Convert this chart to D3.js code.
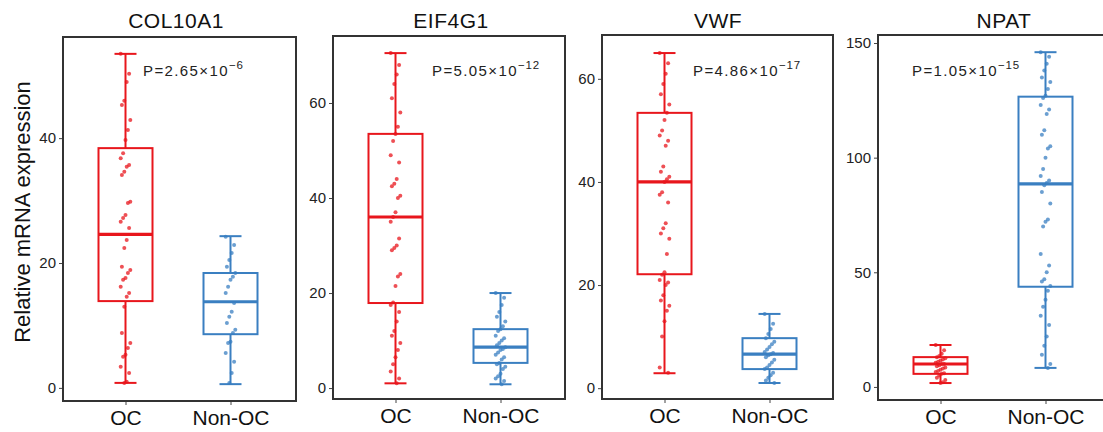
<!DOCTYPE html>
<html>
<head>
<meta charset="utf-8">
<script src="https://cdn.jsdelivr.net/npm/d3@7"></script>
<style>
  html, body { margin: 0; padding: 0; background: #fff; }
  svg { display: block; font-family: Arial, "Liberation Sans", sans-serif; }
</style>
</head>
<body>
<svg id="chart" width="1103" height="432"></svg>
<script>
// ---------------- DATA ----------------
const genes = ["COL10A1", "EIF4G1", "VWF", "NPAT"];
const groups = ["OC", "Non-OC"];
const pLabels = [
  {mant: "P=2.65×10", exp: "−6"},
  {mant: "P=5.05×10", exp: "−12"},
  {mant: "P=4.86×10", exp: "−17"},
  {mant: "P=1.05×10", exp: "−15"}
];
const yTicks = [[0, 20, 40], [0, 20, 40, 60], [0, 20, 40, 60], [0, 50, 100, 150]];
const yDomains = [[-2.1, 56.2], [-2.3, 74.1], [-2.1, 68.5], [-5.7, 153.5]];

// box stats [min, q1, median, q3, max]
const statsOC    = [[0.8, 13.9, 24.6, 38.4, 53.5], [1.0, 17.9, 36.0, 53.5, 70.5], [2.9, 22.1, 40.0, 53.4, 65.0], [1.7, 5.7, 10.0, 13.0, 18.3]];
const statsNonOC = [[0.6, 8.6, 13.8, 18.4, 24.3], [0.8, 5.3, 8.6, 12.4, 20.0], [1.0, 3.7, 6.6, 9.7, 14.4], [8.3, 43.7, 88.6, 126.6, 146.0]];

// individual samples
const col10a1OC = [53.5, 50.3, 49, 46, 45.3, 42.9, 41.3, 39.7, 37.6, 36.8, 35.7, 35.4, 34.6, 34.1, 29.8, 29.6, 27.7, 27.2, 26.6, 25.6, 23.7, 22.4, 19.4, 18.9, 18.4, 17.6, 17.3, 16.2, 15.2, 14.6, 13, 8.8, 7.2, 6.4, 5.3, 5, 3.4, 2.4, 1, 0.8];
const col10a1Non = [24.2, 22.9, 21.6, 20.5, 19.4, 18.4, 17.8, 17.3, 16.2, 15.2, 13.6, 12.2, 11.4, 10.4, 9.3, 8.8, 7.4, 7.2, 5.6, 4.2, 2.4, 0.8];
const eif4g1OC = [70.5, 68, 66, 64, 61, 58, 55, 53.5, 52, 49, 47.5, 44, 43, 42.5, 40.5, 40, 37, 36, 35, 31.5, 30, 29.5, 29, 24, 23.5, 21.5, 18, 17.5, 16, 14, 12, 11, 9.5, 8, 6.5, 5, 3.5, 2, 1];
const eif4g1Non = [20, 19, 17.5, 16, 15, 14, 13, 12.4, 12, 11, 10.5, 10, 9.5, 9, 8.6, 8.2, 8, 7.5, 7, 6.5, 6, 5.3, 5, 4.5, 4, 3, 2.5, 2, 1.5, 0.8];
const vwfOC = [65, 63, 61, 59, 57, 55, 53.4, 52, 50, 49, 48, 47, 43, 42, 41, 40.5, 40, 38, 37.5, 36, 32, 31, 30, 29, 26, 22.5, 22, 21, 20.5, 20, 18, 17, 16, 15, 13, 10, 4, 3];
const vwfNon = [14.4, 12.5, 11.5, 10.5, 9.7, 9, 8.5, 8, 7.5, 7, 6.8, 6.6, 6.4, 6, 5.5, 5, 4.5, 4, 3.7, 3, 2.5, 2, 1.5, 1];
const npatOC = [18.3, 16, 14.5, 13.5, 13, 12.5, 12, 11.5, 11, 10.5, 10, 10, 9.5, 9, 8.5, 8, 7.5, 7, 6.5, 6, 5.7, 5, 4, 3, 2, 1.7];
const npatNon = [146, 144, 141, 138, 135, 133, 130, 127, 126, 123, 121, 119, 112, 110, 105, 104, 100, 95, 92, 90, 89, 88, 85, 80, 73, 72, 70, 58, 53, 50, 47, 46, 44, 42, 38, 35, 31, 27, 22, 18, 14, 10, 8.3];
const pointsOC = [col10a1OC, eif4g1OC, vwfOC, npatOC];
const pointsNonOC = [col10a1Non, eif4g1Non, vwfNon, npatNon];

const yTitle = "Relative mRNA expression";

// ---------------- LAYOUT ----------------
const panels = [
  {left: 63,  right: 296,  top: 37, bottom: 401, pX: 143, tX: 176},
  {left: 333, right: 565,  top: 36, bottom: 399, pX: 432, tX: 451},
  {left: 602, right: 833,  top: 35, bottom: 399, pX: 693, tX: 718},
  {left: 878, right: 1130, top: 35, bottom: 400, pX: 912, tX: 1004}
];
const colors = {"OC": "#e8161c", "Non-OC": "#3a7fc1"};
const boxW = 54, capW = 22;

const svg = d3.select("#chart");

svg.append("text")
  .attr("transform", "translate(30,212) rotate(-90)")
  .attr("text-anchor", "middle")
  .attr("font-size", 22)
  .attr("fill", "#111")
  .text(yTitle);

genes.forEach((gene, gi) => {
  const P = panels[gi];
  const g = svg.append("g");
  const y = d3.scaleLinear().domain(yDomains[gi]).range([P.bottom, P.top]);
  const x = d3.scalePoint().domain(groups).range([P.left + 62.5, P.left + 167.5]);

  // title
  g.append("text")
    .attr("x", P.tX)
    .attr("y", 28)
    .attr("text-anchor", "middle")
    .attr("font-size", 21)
    .attr("letter-spacing", 0.5)
    .attr("fill", "#111")
    .text(gene);

  // y axis
  const yAxis = d3.axisLeft(y).tickValues(yTicks[gi]).tickSize(4).tickPadding(3);
  const ag = g.append("g").attr("transform", `translate(${P.left},0)`).call(yAxis);
  ag.select(".domain").remove();
  ag.selectAll(".tick line").attr("stroke", "#444");
  ag.selectAll(".tick text").attr("font-size", 15).attr("fill", "#222")
    .attr("font-family", "Arial, 'Liberation Sans', sans-serif");

  // x axis
  const xAxis = d3.axisBottom(x).tickSize(4).tickPadding(5);
  const xg = g.append("g").attr("transform", `translate(0,${P.bottom})`).call(xAxis);
  xg.select(".domain").remove();
  xg.selectAll(".tick line").attr("stroke", "#444");
  xg.selectAll(".tick text").attr("font-size", 21).attr("fill", "#111")
    .attr("font-family", "Arial, 'Liberation Sans', sans-serif");

  // boxes
  const stats = {"OC": statsOC[gi], "Non-OC": statsNonOC[gi]};
  const pts = {"OC": pointsOC[gi], "Non-OC": pointsNonOC[gi]};
  groups.forEach(grp => {
    const s = stats[grp];
    const cx = x(grp);
    const c = colors[grp];
    const bg = g.append("g");
    bg.append("line").attr("x1", cx).attr("x2", cx).attr("y1", y(s[0])).attr("y2", y(s[1]))
      .attr("stroke", c).attr("stroke-width", 2);
    bg.append("line").attr("x1", cx).attr("x2", cx).attr("y1", y(s[3])).attr("y2", y(s[4]))
      .attr("stroke", c).attr("stroke-width", 2);
    [s[0], s[4]].forEach(v => {
      bg.append("line").attr("x1", cx - capW / 2).attr("x2", cx + capW / 2)
        .attr("y1", y(v)).attr("y2", y(v)).attr("stroke", c).attr("stroke-width", 2);
    });
    bg.append("rect").attr("x", cx - boxW / 2).attr("width", boxW)
      .attr("y", y(s[3])).attr("height", y(s[1]) - y(s[3]))
      .attr("fill", "none").attr("stroke", c).attr("stroke-width", 2);
    bg.append("line").attr("x1", cx - boxW / 2).attr("x2", cx + boxW / 2)
      .attr("y1", y(s[2])).attr("y2", y(s[2])).attr("stroke", c).attr("stroke-width", 3.2);
    bg.selectAll("circle").data(pts[grp]).enter().append("circle")
      .attr("cx", (d, i) => cx + (((i * 7) % 9) - 4) * 1.2)
      .attr("cy", d => y(d))
      .attr("r", 2)
      .attr("fill", c)
      .attr("opacity", 0.75);
  });

  // p-value
  const pt = g.append("text")
    .attr("x", P.pX)
    .attr("y", 76)
    .attr("font-size", 15)
    .attr("letter-spacing", 1.4)
    .attr("fill", "#222");
  pt.append("tspan").text(pLabels[gi].mant);
  pt.append("tspan").attr("dy", -7).attr("font-size", 11.5).attr("letter-spacing", 0.8).text(pLabels[gi].exp);

  // frame
  g.append("rect")
    .attr("x", P.left).attr("y", P.top)
    .attr("width", P.right - P.left).attr("height", P.bottom - P.top)
    .attr("fill", "none").attr("stroke", "#333").attr("stroke-width", 2);
});
</script>
</body>
</html>
